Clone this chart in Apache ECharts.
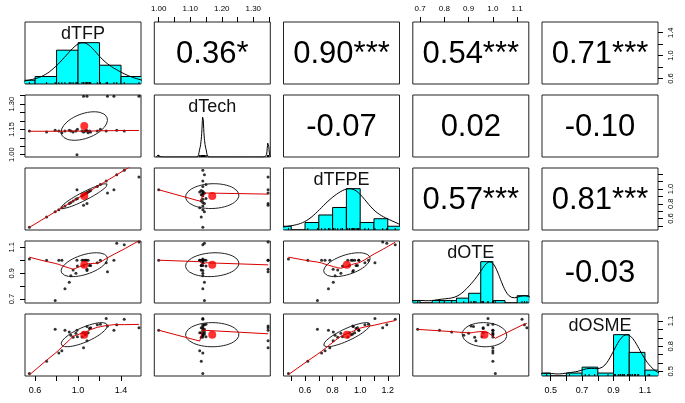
<!DOCTYPE html>
<html><head><meta charset="utf-8">
<script src="https://cdn.jsdelivr.net/npm/echarts@6/dist/echarts.min.js"></script>
<style>html,body{margin:0;padding:0;background:#fff}#c{width:685px;height:403px}</style>
</head><body><div id="c"></div>
<script>
// ---------------- data (one entry per observation) ----------------
const varNames = ['dTFP', 'dTech', 'dTFPE', 'dOTE', 'dOSME'];
const dTFP  = [0.547, 0.707, 0.787, 0.821, 0.849, 0.878, 0.918, 0.933, 0.954, 0.980, 0.994, 1.037, 1.051, 1.066, 1.077, 1.083, 1.094, 1.106, 1.117, 1.179, 1.208, 1.262, 1.360, 1.430, 1.051, 1.083, 1.274, 1.334, 1.567, 0.990];
const dTech = [1.14, 1.135, 1.145, 1.14, 1.13, 1.14, 1.145, 1.14, 1.135, 1.14, 1.15, 1.14, 1.135, 1.14, 1.145, 1.14, 1.13, 1.14, 1.135, 1.14, 1.15, 1.14, 1.145, 1.14, 1.347, 1.347, 1.347, 1.347, 1.347, 1.00];
const dTFPE = [0.48, 0.62, 0.69, 0.72, 0.745, 0.77, 0.805, 0.818, 0.837, 0.86, 0.872, 0.91, 0.922, 0.935, 0.945, 0.95, 0.96, 0.97, 0.98, 1.034, 1.06, 1.107, 1.193, 1.254, 0.78, 0.804, 0.946, 0.99, 1.163, 0.99];
const dOTE  = [1.01, 1.00, 0.69, 1.00, 1.00, 0.78, 0.83, 0.88, 0.925, 0.90, 0.955, 1.00, 0.96, 1.00, 1.00, 0.92, 1.00, 0.96, 0.96, 0.98, 1.00, 0.98, 1.13, 1.12, 1.00, 0.93, 0.91, 1.00, 1.14, 1.00];
const dOSME = [0.475, 0.62, 1.00, 0.72, 0.745, 0.99, 0.97, 0.93, 0.905, 0.955, 0.913, 0.91, 0.96, 0.935, 0.945, 1.033, 0.96, 1.01, 1.02, 1.055, 1.06, 1.13, 1.056, 1.12, 0.78, 0.865, 1.04, 0.99, 1.02, 0.99];

// correlation labels of the upper triangle (row-col)
const corrLabels = {'0-1': '0.36*', '0-2': '0.90***', '0-3': '0.54***', '0-4': '0.71***',
  '1-2': '-0.07', '1-3': '0.02', '1-4': '-0.10', '2-3': '0.57***', '2-4': '0.81***', '3-4': '-0.03'};

// histogram breaks
const breaksTFP  = [0.4, 0.6, 0.8, 1.0, 1.2, 1.4, 1.6];
const breaksTFPE = [0.4, 0.5, 0.6, 0.7, 0.8, 0.9, 1.0, 1.1, 1.2, 1.3];
const breaksOTE  = [0.65, 0.70, 0.75, 0.80, 0.85, 0.90, 0.95, 1.00, 1.05, 1.10, 1.15];
const breaksOSME = [0.4, 0.5, 0.6, 0.7, 0.8, 0.9, 1.0, 1.1, 1.2];

// axis ranges and tick values
const axisRanges = [[0.506, 1.586], [0.986, 1.354], [0.444, 1.285], [0.670, 1.148], [0.445, 1.183]];
const ticksTFP  = [0.6, 0.8, 1.0, 1.2, 1.4, 1.6];
const labelsTFP = [0.6, 1.0, 1.4];
const ticksTech = [1.00, 1.05, 1.10, 1.15, 1.20, 1.25, 1.30, 1.35];
const labelsTechTop  = [1.00, 1.10, 1.20, 1.30];
const labelsTechLeft = [1.00, 1.15, 1.30];
const ticksTFPE = [0.5, 0.6, 0.7, 0.8, 0.9, 1.0, 1.1, 1.2];
const labelsTFPEBottom = [0.6, 0.8, 1.0, 1.2];
const labelsTFPERight  = [0.6, 0.8, 1.0];
const ticksOTE = [0.7, 0.8, 0.9, 1.0, 1.1];
const labelsOTETop  = [0.7, 0.8, 0.9, 1.0, 1.1];
const labelsOTELeft = [0.7, 0.9, 1.1];
const ticksOSME = [0.5, 0.6, 0.7, 0.8, 0.9, 1.0, 1.1, 1.2];
const labelsOSMEBottom = [0.5, 0.7, 0.9, 1.1];
const labelsOSMERight  = [0.5, 0.8, 1.1];

// ---------------- helpers ----------------
const cols = [dTFP, dTech, dTFPE, dOTE, dOSME];
const breaksAll = [breaksTFP, null, breaksTFPE, breaksOTE, breaksOSME];
const mean = a => a.reduce((s, v) => s + v, 0) / a.length;
const sd = a => { const m = mean(a); return Math.sqrt(a.reduce((s, v) => s + (v - m) ** 2, 0) / (a.length - 1)); };
const cor = (a, b) => { const ma = mean(a), mb = mean(b); let sab = 0, saa = 0, sbb = 0;
  for (let i = 0; i < a.length; i++) { sab += (a[i] - ma) * (b[i] - mb); saa += (a[i] - ma) ** 2; sbb += (b[i] - mb) ** 2; }
  return sab / Math.sqrt(saa * sbb); };
function q7(s, p) { const h = (s.length - 1) * p, lo = Math.floor(h); return s[lo] + (h - lo) * (s[Math.min(lo + 1, s.length - 1)] - s[lo]); }
function density(x) {
  const s = [...x].sort((a, b) => a - b);
  const iqr = (q7(s, .75) - q7(s, .25)) / 1.34;
  const bw = 1.06 * Math.min(sd(x), iqr) * Math.pow(x.length, -0.2) * 1.2;
  if (!(bw > 0)) return [];
  const lo = s[0] - 3 * bw, hi = s[s.length - 1] + 3 * bw, pts = [];
  let mx = 0;
  for (let k = 0; k < 512; k++) { const g = lo + (hi - lo) * k / 511; let d = 0;
    for (const v of x) d += Math.exp(-0.5 * ((g - v) / bw) ** 2); pts.push([g, d]); if (d > mx) mx = d; }
  return pts.map(p => [p[0], p[1] / mx]);
}
function lowest(x, y, n, xs, nleft, nright, rw, userw) {
  const range = x[n - 1] - x[0];
  const h = Math.max(xs - x[nleft], x[nright] - xs), h9 = .999 * h, h1 = .001 * h;
  const w = new Array(n).fill(0); let a = 0, j = nleft;
  while (j < n) { const r = Math.abs(x[j] - xs);
    if (r <= h9) { w[j] = r <= h1 ? 1 : Math.pow(1 - Math.pow(r / h, 3), 3); if (userw) w[j] *= rw[j]; a += w[j]; }
    else if (x[j] > xs) break; j++; }
  const nrt = j - 1; if (a <= 0) return null;
  for (j = nleft; j <= nrt; j++) w[j] /= a;
  if (h > 0) { a = 0; for (j = nleft; j <= nrt; j++) a += w[j] * x[j];
    let b = xs - a, c = 0; for (j = nleft; j <= nrt; j++) c += w[j] * (x[j] - a) ** 2;
    if (Math.sqrt(c) > .001 * range) { b /= c; for (j = nleft; j <= nrt; j++) w[j] *= (b * (x[j] - a) + 1); } }
  let ys = 0; for (j = nleft; j <= nrt; j++) ys += w[j] * y[j]; return ys;
}
function lowess(xIn, yIn, f = 2 / 3, iter = 3) {
  const n = xIn.length, idx = [...Array(n).keys()].sort((a, b) => xIn[a] - xIn[b]);
  const x = idx.map(i => xIn[i]), y = idx.map(i => yIn[i]);
  const ns = Math.max(2, Math.min(n, Math.floor(f * n + 1e-7)));
  const ys = new Array(n).fill(0), rw = new Array(n).fill(1), res = new Array(n).fill(0);
  const delta = 0.01 * (x[n - 1] - x[0]);
  for (let it = 0; it <= iter; it++) {
    let nleft = 0, nright = ns - 1, last = -1, i = 0;
    for (;;) {
      if (nright < n - 1) { if (x[i] - x[nleft] > x[nright + 1] - x[i]) { nleft++; nright++; continue; } }
      const fit = lowest(x, y, n, x[i], nleft, nright, rw, it > 0);
      ys[i] = fit === null ? y[i] : fit;
      if (last < i - 1) { const den = x[i] - x[last];
        for (let j = last + 1; j < i; j++) { const al = (x[j] - x[last]) / den; ys[j] = al * ys[i] + (1 - al) * ys[last]; } }
      last = i; const cut = x[last] + delta;
      for (i = last + 1; i < n; i++) { if (x[i] > cut) break; if (x[i] === x[last]) { ys[i] = ys[last]; last = i; } }
      i = Math.max(last + 1, i - 1);
      if (last >= n - 1) break;
    }
    for (let k = 0; k < n; k++) res[k] = y[k] - ys[k];
    if (it >= iter) break;
    const sc = mean(res.map(Math.abs));
    const ar = res.map(Math.abs).sort((a, b) => a - b), m1 = Math.floor(n / 2);
    const cmad = n % 2 === 0 ? 3 * (ar[m1] + ar[m1 - 1]) : 6 * ar[m1];
    if (cmad < 1e-7 * sc) break;
    const c9 = .999 * cmad, c1 = .001 * cmad;
    for (let k = 0; k < n; k++) { const r = Math.abs(res[k]); rw[k] = r <= c1 ? 1 : (r <= c9 ? (1 - (r / cmad) ** 2) ** 2 : 0); }
  }
  return x.map((v, k) => [v, ys[k]]);
}
function ellipse(xv, yv) {
  const xm = mean(xv), ym = mean(yv), xs = sd(xv), ysd = sd(yv), r = cor(xv, yv);
  const th = r !== 0 ? Math.sign(r) / Math.sqrt(2) : 1 / Math.sqrt(2);
  const s1 = Math.sqrt(1 + r), s2 = Math.sqrt(1 - r);
  const S = [[s1 * th, s1 * th], [-s2 * th, s2 * th]], pts = [];
  for (let k = 0; k <= 51; k++) { const a = k * 2 * Math.PI / 51, c = Math.cos(a), s = Math.sin(a);
    pts.push([(c * S[0][0] + s * S[1][0]) * xs + xm, (c * S[0][1] + s * S[1][1]) * ysd + ym]); }
  return { pts, xm, ym };
}
function histRects(x, br) {
  if (!br) { return []; }
  const cnt = new Array(br.length - 1).fill(0);
  x.forEach(v => { for (let b = 0; b < br.length - 1; b++) { if ((v > br[b] + 1e-9 || (b === 0 && v >= br[0])) && v <= br[b + 1] + 1e-9) { cnt[b]++; break; } } });
  const mx = Math.max(...cnt);
  return cnt.map((c, b) => [br[b], br[b + 1], c / mx]);
}

// ---------------- layout ----------------
const colLeft = [25, 154.3, 283.5, 412.8, 542], pw = 116;
const rowTop = [22, 95, 168, 241, 314], ph = 62;
const FONT = 'Liberation Sans, Arial, sans-serif';
const fmt1 = v => v.toFixed(1), fmt2 = v => v.toFixed(2);

function axisSpec(k, pos, ticks, labels, fmt, rot) {
  const r = axisRanges[k];
  const base = { type: 'value', min: r[0], max: r[1], splitLine: { show: false }, axisLine: { show: false } };
  if (!pos) return Object.assign(base, { axisTick: { show: false }, axisLabel: { show: false } });
  const vert = pos === 'left' || pos === 'right';
  return Object.assign(base, {
    position: pos,
    axisTick: { show: true, inside: false, length: 5, customValues: ticks, lineStyle: { color: '#000', width: 1 } },
    axisLabel: { show: true, customValues: labels, formatter: fmt, color: '#000', fontFamily: FONT,
      fontSize: pos === 'top' ? 8 : (vert ? 7.5 : 9), margin: vert ? 9 : (pos === 'top' ? 9 : 10), rotate: rot || 0 }
  });
}

const grids = [], xAxes = [], yAxes = [], series = [], graphics = [];
const topAxis = { 1: [ticksTech, labelsTechTop, fmt2], 3: [ticksOTE, labelsOTETop, fmt1] };
const bottomAxis = { 0: [ticksTFP, labelsTFP, fmt1], 2: [ticksTFPE, labelsTFPEBottom, fmt1], 4: [ticksOSME, labelsOSMEBottom, fmt1] };
const leftAxis = { 1: [ticksTech, labelsTechLeft, fmt2], 3: [ticksOTE, labelsOTELeft, fmt1] };
const rightAxis = { 0: [ticksTFP, labelsTFP, fmt1], 2: [ticksTFPE, labelsTFPERight, fmt1], 4: [ticksOSME, labelsOSMERight, fmt1] };

for (let i = 0; i < 5; i++) for (let j = 0; j < 5; j++) {
  const g = grids.length;
  grids.push({ left: colLeft[j], top: rowTop[i], width: pw, height: ph, show: true, borderColor: '#222', borderWidth: 1, backgroundColor: 'transparent' });
  let xs;
  if (i === 0 && topAxis[j]) xs = axisSpec(j, 'top', ...topAxis[j]);
  else if (i === 4 && bottomAxis[j]) xs = axisSpec(j, 'bottom', ...bottomAxis[j]);
  else xs = axisSpec(j, null);
  xs.gridIndex = g; const xi = xAxes.length; xAxes.push(xs);
  let yi;
  if (i === j) {
    yi = yAxes.length;
    yAxes.push({ type: 'value', gridIndex: g, min: 0, max: 1.5, show: false });
    if (j === 4 && rightAxis[i]) { const ra = axisSpec(i, 'right', ...rightAxis[i], 90); ra.gridIndex = g; yAxes.push(ra); }
  } else {
    let ys;
    if (j === 0 && leftAxis[i]) ys = axisSpec(i, 'left', ...leftAxis[i], 90);
    else if (j === 4 && rightAxis[i]) ys = axisSpec(i, 'right', ...rightAxis[i], 90);
    else ys = axisSpec(i, null);
    ys.gridIndex = g; yi = yAxes.length; yAxes.push(ys);
  }
  const ax = { xAxisIndex: xi, yAxisIndex: yi };
  if (i === j) {
    const x = cols[i];
    series.push(Object.assign({ type: 'custom', clip: true, data: histRects(x, breaksAll[i]),
      renderItem: (p, api) => { const a = api.coord([api.value(0), 0]), b = api.coord([api.value(1), api.value(2)]);
        return { type: 'rect', shape: { x: a[0], y: b[1], width: b[0] - a[0], height: a[1] - b[1] }, style: { fill: '#00FFFF', stroke: '#000', lineWidth: 1 } }; } }, ax));
    series.push(Object.assign({ type: 'line', data: density(x), showSymbol: false, clip: true, lineStyle: { color: '#000', width: 1 }, silent: true }, ax));
    series.push(Object.assign({ type: 'custom', clip: true, data: x.map(v => [v]),
      renderItem: (p, api) => { const a = api.coord([api.value(0), 0]);
        return { type: 'line', shape: { x1: a[0], y1: a[1], x2: a[0], y2: a[1] - 2 }, style: { stroke: '#000', lineWidth: 1 } }; } }, ax));
    graphics.push({ type: 'text', x: colLeft[j] + pw / 2, y: rowTop[i] + 12, style: { text: varNames[i], fontFamily: FONT, fontSize: 18, fill: '#111', align: 'center', verticalAlign: 'middle' } });
  } else if (i > j) {
    const xv = cols[j], yv = cols[i];
    const pts = xv.map((v, k) => [v, yv[k]]);
    const el = ellipse(xv, yv);
    series.push(Object.assign({ type: 'scatter', data: pts, symbolSize: 3, itemStyle: { color: '#000' }, silent: true }, ax));
    series.push(Object.assign({ type: 'line', data: el.pts, showSymbol: false, clip: true, lineStyle: { color: '#222', width: 1 }, silent: true }, ax));
    series.push(Object.assign({ type: 'scatter', data: [[el.xm, el.ym]], symbolSize: 8, itemStyle: { color: '#FF0000' }, silent: true }, ax));
    series.push(Object.assign({ type: 'line', data: lowess(xv, yv), showSymbol: false, clip: true, lineStyle: { color: '#D80000', width: 1 }, silent: true }, ax));
  } else {
    graphics.push({ type: 'text', x: colLeft[j] + pw / 2, y: rowTop[i] + ph / 2 + 1, style: { text: corrLabels[i + '-' + j], fontFamily: FONT, fontSize: 31, fill: '#000', align: 'center', verticalAlign: 'middle' } });
  }
}

const chart = echarts.init(document.getElementById('c'), null, { renderer: 'canvas' });
chart.setOption({ animation: false, backgroundColor: '#fff', grid: grids, xAxis: xAxes, yAxis: yAxes, series: series, graphic: graphics });
</script></body></html>
